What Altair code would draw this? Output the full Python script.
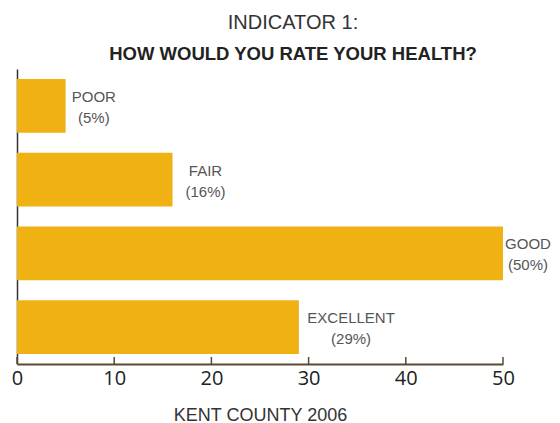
import altair as alt
import pandas as pd

categories = ["POOR", "FAIR", "GOOD", "EXCELLENT"]
values = [5, 16, 50, 29]
pct_labels = ["(5%)", "(16%)", "(50%)", "(29%)"]
tick_values = [0, 10, 20, 30, 40, 50]

df = pd.DataFrame({"cat": categories, "value": values, "pct": pct_labels})
ticks = pd.DataFrame({"t": tick_values})

W, H = 486, 295
PAD_R = 49
BAR = "#F0B112"
XMAX = 50

x_scale = alt.Scale(domain=[0, XMAX], nice=False)
y_enc = alt.Y("cat:N", sort=categories,
              scale=alt.Scale(paddingInner=0.27, paddingOuter=0.135),
              axis=alt.Axis(title=None, labels=False, ticks=False, domain=True,
                            domainColor="#333333", domainWidth=1.5))

bars = alt.Chart(df).mark_bar(color=BAR).encode(
    x=alt.X("value:Q", scale=x_scale,
            axis=alt.Axis(values=tick_values, ticks=False, grid=False,
                          domainColor="#5b4a30", domainWidth=2,
                          labelFontSize=20, labelColor="#222222",
                          labelFont="Open Sans", labelPadding=4,
                          labelFlush=False,
                          title="KENT COUNTY 2006", titleFontSize=18,
                          titleFontWeight="normal", titleColor="#333333",
                          titleFont="Liberation Sans", titlePadding=18)),
    y=y_enc,
)

# label centre: a gap after the bar end plus half the widest line,
# kept inside the chart's right edge
labels = alt.Chart(df).transform_calculate(
    txt="[datum.cat, datum.pct]",
    half="max(length(datum.cat), length(datum.pct)) * 4.8",
).transform_calculate(
    lx=f"min(datum.value * {W} / {XMAX} + 9 + datum.half, {W + PAD_R} - datum.half) * {XMAX} / {W}",
).mark_text(align="center", baseline="middle", fontSize=15, color="#555555",
            font="Liberation Sans", lineHeight=21, dy=-9).encode(
    x=alt.X("lx:Q", scale=x_scale),
    y=alt.Y("cat:N", sort=categories),
    text="txt:N",
)

tick_marks = alt.Chart(ticks).mark_rule(color="#5b4a30", strokeWidth=1.5).encode(
    x=alt.X("t:Q", scale=x_scale),
    y=alt.value(H - 7),
    y2=alt.value(H),
)

chart = alt.layer(bars, labels, tick_marks).properties(
    width=W, height=H,
    title=alt.Title(text="INDICATOR 1:",
                    subtitle="HOW WOULD YOU RATE YOUR HEALTH?",
                    fontSize=20, fontWeight="normal", color="#333333",
                    font="Liberation Sans",
                    subtitleFontSize=18.5, subtitleFontWeight="bold",
                    subtitleColor="#222222", subtitleFont="Liberation Sans",
                    subtitlePadding=12, anchor="middle", dx=33, offset=6),
    autosize=alt.AutoSizeParams(type="none"),
    padding={"left": 9, "top": 61, "right": PAD_R, "bottom": 59},
).configure_view(stroke=None)

chart.save("out.html", embed_options={"renderer": "svg", "actions": False})
